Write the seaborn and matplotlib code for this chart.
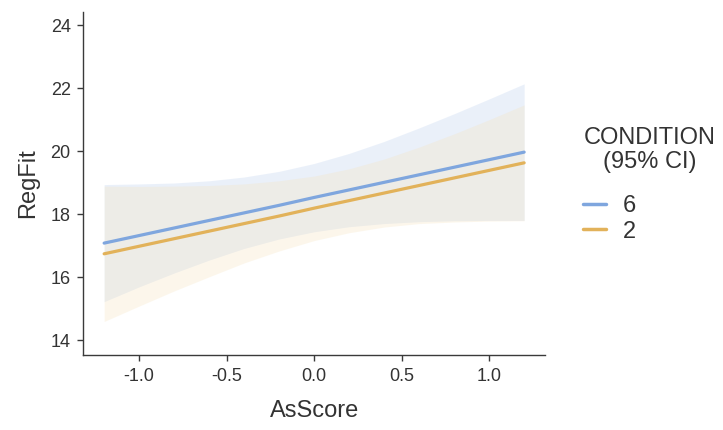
import numpy as np
import pandas as pd
import matplotlib
matplotlib.use("Agg")
import matplotlib.pyplot as plt
import seaborn as sns

# values
as_score = [-1.2, -1.0, -0.8, -0.6, -0.4, -0.2, 0.0, 0.2, 0.4, 0.6, 0.8, 1.0, 1.2]

fit_6 = [17.08, 17.32, 17.56, 17.80, 18.04, 18.28, 18.53, 18.77, 19.01, 19.25, 19.49, 19.73, 19.97]
upper_6 = [18.94, 18.96, 18.99, 19.06, 19.18, 19.36, 19.61, 19.93, 20.31, 20.74, 21.19, 21.66, 22.14]
lower_6 = [15.22, 15.69, 16.13, 16.54, 16.91, 17.21, 17.44, 17.60, 17.70, 17.76, 17.79, 17.80, 17.80]

fit_2 = [16.74, 16.98, 17.22, 17.46, 17.70, 17.94, 18.19, 18.43, 18.67, 18.91, 19.15, 19.39, 19.63]
upper_2 = [18.89, 18.88, 18.89, 18.91, 18.96, 19.06, 19.21, 19.44, 19.75, 20.13, 20.55, 21.00, 21.47]
lower_2 = [14.59, 15.08, 15.56, 16.01, 16.45, 16.83, 17.16, 17.41, 17.59, 17.70, 17.75, 17.78, 17.79]

conditions = ["6", "2"]
line_colors = {"6": "#7fa6de", "2": "#e2b25a"}
band_colors = {"6": "#bcd0ee", "2": "#f6e2ba"}

df = pd.DataFrame({
    "AsScore": as_score * 2,
    "RegFit": fit_6 + fit_2,
    "CONDITION": ["6"] * len(as_score) + ["2"] * len(as_score),
})

sns.set_theme(style="ticks")
plt.rcParams["font.family"] = ["Liberation Sans", "DejaVu Sans"]
txt = "#333333"

fig = plt.figure(figsize=(7.23, 4.3), dpi=100)
ax = fig.add_axes([0.115, 0.174, 0.639, 0.798])

# CI bands, blue first then orange on top
ax.fill_between(as_score, lower_6, upper_6, color=band_colors["6"], alpha=0.3, lw=0)
ax.fill_between(as_score, lower_2, upper_2, color=band_colors["2"], alpha=0.28, lw=0)

sns.lineplot(data=df, x="AsScore", y="RegFit", hue="CONDITION", hue_order=conditions,
             palette=line_colors, linewidth=2.3, ax=ax)

ax.set_xlim(-1.32, 1.32)
ax.set_ylim(13.52, 24.42)
ax.set_xticks([-1.0, -0.5, 0.0, 0.5, 1.0])
ax.set_xticklabels(["-1.0", "-0.5", "0.0", "0.5", "1.0"])
ax.set_yticks([14, 16, 18, 20, 22, 24])

for side in ["top", "right"]:
    ax.spines[side].set_visible(False)
for side in ["left", "bottom"]:
    ax.spines[side].set_color("#3a3a3a")
    ax.spines[side].set_linewidth(1.0)
ax.tick_params(axis="both", length=4, width=1, color="#3a3a3a",
               labelsize=13, labelcolor=txt, pad=5)

ax.set_xlabel("AsScore", fontsize=17, color=txt, labelpad=11)
ax.set_ylabel("RegFit", fontsize=17, color=txt, labelpad=8)

# legend: title as separate centred text, entries below
handles, labels = ax.get_legend_handles_labels()
ax.get_legend().remove()
fig.text(0.899, 1 - 150 / 430, "CONDITION\n(95% CI)", ha="center", va="center",
         fontsize=17, color=txt, linespacing=1.1)
leg = fig.legend(handles, labels, loc="upper left", bbox_to_anchor=(0.806, 1 - 195 / 430),
                 frameon=False, fontsize=17, handlelength=1.0, handletextpad=0.7,
                 labelspacing=0.15, borderpad=0, borderaxespad=0)
for t in leg.get_texts():
    t.set_color(txt)
for h in leg.get_lines():
    h.set_linewidth(2.5)

fig.savefig("out.png", dpi=100)
